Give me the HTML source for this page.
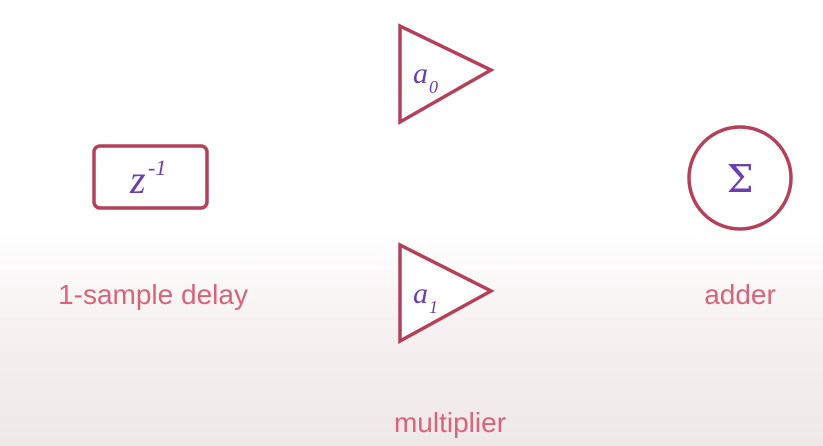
<!DOCTYPE html>
<html><head><meta charset="utf-8"><style>
html,body{margin:0;padding:0;width:823px;height:446px;overflow:hidden}
body{background:linear-gradient(180deg,#ffffff 0%,#ffffff 52%,#f6f0f0 75%,#efe8e8 100%);font-family:"Liberation Sans",sans-serif}
svg{display:block}
</style></head><body>
<svg width="823" height="446" viewBox="0 0 823 446" xmlns="http://www.w3.org/2000/svg">
<g>
<rect x="94" y="146" width="113" height="62" rx="6" fill="#fff" stroke="#b4405a" stroke-width="3.5"/>
<text x="130" y="193" font-family="Liberation Serif,serif" font-style="italic" font-size="40" fill="#6b3fb2">z</text>
<text x="148" y="175" font-family="Liberation Serif,serif" font-style="italic" font-size="22" fill="#6b3fb2">-1</text>
</g>
<g>
<polygon points="400,26 400,122 491,70" fill="#fff" stroke="#b4405a" stroke-width="3.5"/>
<text x="413" y="83" font-family="Liberation Serif,serif" font-style="italic" font-size="30" fill="#6b3fb2">a</text>
<text x="429" y="93" font-family="Liberation Serif,serif" font-style="italic" font-size="18" fill="#6b3fb2">0</text>
</g>
<g>
<polygon points="400,245 400,341 491,291" fill="#fff" stroke="#b4405a" stroke-width="3.5"/>
<text x="413" y="303" font-family="Liberation Serif,serif" font-style="italic" font-size="30" fill="#6b3fb2">a</text>
<text x="429" y="313" font-family="Liberation Serif,serif" font-style="italic" font-size="18" fill="#6b3fb2">1</text>
</g>
<g>
<circle cx="740" cy="178" r="51" fill="#fff" stroke="#b4405a" stroke-width="3.5"/>
<text x="740" y="192" text-anchor="middle" font-family="DejaVu Serif,serif" font-size="38" fill="#6b3fb2">Σ</text>
</g>
<text x="153" y="304" text-anchor="middle" font-size="28" fill="#d8647c">1-sample delay</text>
<text x="740" y="304" text-anchor="middle" font-size="28" fill="#d8647c">adder</text>
<text x="450" y="432" text-anchor="middle" font-size="28" fill="#d8647c">multiplier</text>
</svg>
</body></html>
